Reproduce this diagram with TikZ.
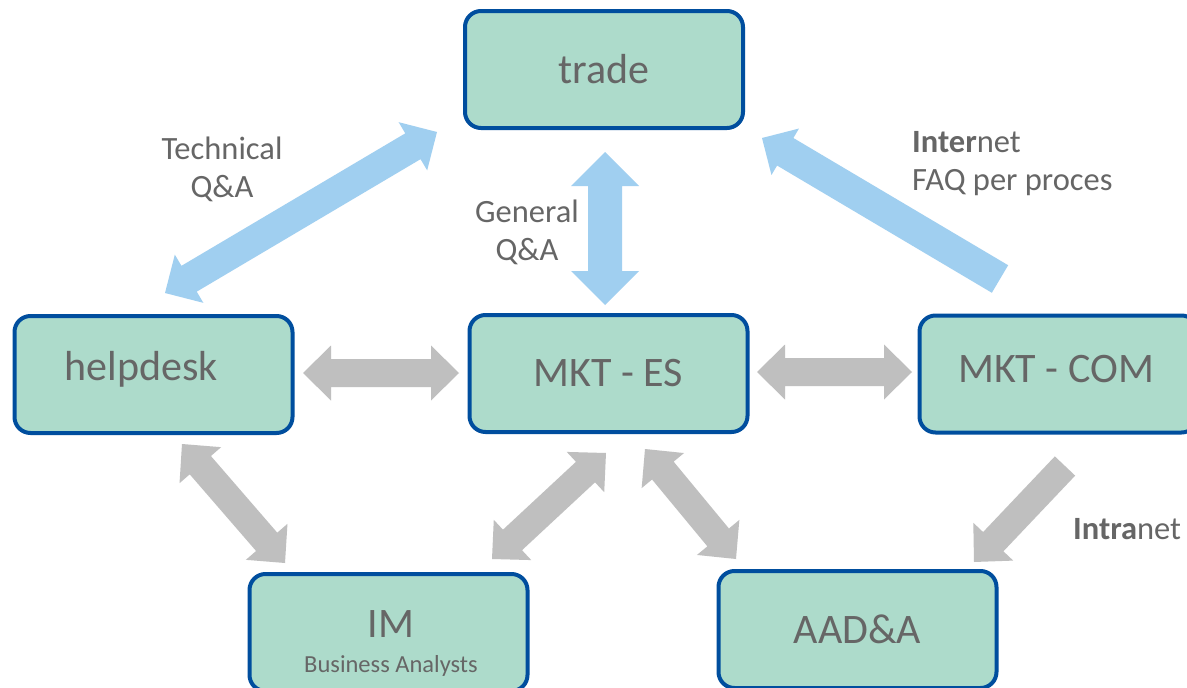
\documentclass[tikz,border=0pt]{standalone}
\usepackage{fontspec}
\setmainfont{Carlito}
\usetikzlibrary{calc}
\definecolor{boxfill}{RGB}{173,219,203}
\definecolor{boxline}{RGB}{0,78,158}
\definecolor{txt}{RGB}{102,102,102}
\definecolor{bluearr}{RGB}{160,207,240}
\definecolor{grayarr}{RGB}{191,191,191}
% double-headed block arrow: #1 colour, #2 A, #3 B, #4 head length, #5 half head width, #6 half shaft width
\newcommand\blockdbl[6]{%
\fill[#1] (#2) -- ($($(#2)!#4!(#3)$)!#5!90:(#3)$) -- ($($(#2)!#4!(#3)$)!#6!90:(#3)$)
 -- ($($(#3)!#4!(#2)$)!#6!-90:(#2)$) -- ($($(#3)!#4!(#2)$)!#5!-90:(#2)$) -- (#3)
 -- ($($(#3)!#4!(#2)$)!#5!90:(#2)$) -- ($($(#3)!#4!(#2)$)!#6!90:(#2)$)
 -- ($($(#2)!#4!(#3)$)!#6!-90:(#3)$) -- ($($(#2)!#4!(#3)$)!#5!-90:(#3)$) -- cycle;}
% single-headed block arrow: #2 tail, #3 apex
\newcommand\blocksgl[6]{%
\fill[#1] ($(#2)!#6!90:(#3)$) -- ($($(#3)!#4!(#2)$)!#6!-90:(#2)$) -- ($($(#3)!#4!(#2)$)!#5!-90:(#2)$) -- (#3)
 -- ($($(#3)!#4!(#2)$)!#5!90:(#2)$) -- ($($(#3)!#4!(#2)$)!#6!90:(#2)$) -- ($(#2)!#6!-90:(#3)$) -- cycle;}
\begin{document}
\begin{tikzpicture}[x=1pt,y=-1pt,
  box/.style={draw=boxline, line width=4pt, fill=boxfill, rounded corners=16pt,
    minimum width=278pt, minimum height=117pt, inner sep=0pt, text=txt,
    font=\fontsize{42}{48}\selectfont},
  bigtxt/.style={text=txt, inner sep=0pt, anchor=base, font=\fontsize{42}{48}\selectfont},
  lbl/.style={text=txt, inner sep=0pt, font=\fontsize{32.5}{38}\selectfont},
  small/.style={text=txt, inner sep=0pt, anchor=base, font=\fontsize{24.5}{28}\selectfont}]
\useasboundingbox (0,0) rectangle (1187,688);
\fill[white] (0,0) rectangle (1187,688);

% boxes
\node[box] (trade) at (604,69.5) {trade};
\node[box] (helpdesk) at (153.5,374.5) {};
\node[box] (mktes) at (608.5,373.5) {MKT - ES};
\node[box] (mktcom) at (1058.5,374) {};
\node[box] (im) at (388.5,632.5) {};
\node[box] (aad) at (857.5,629.5) {AAD\&A};

\node[bigtxt] (helpdesk-t) at (141,380) {helpdesk};
\node[bigtxt] (mktcom-t) at (1056,382) {MKT - COM};
\node[bigtxt] (im-t) at (391,637) {IM};
\node[small] (im-s) at (391,672) {Business Analysts};

% arrow end points
\coordinate (t1) at (437,132);
\coordinate (t2) at (165,293);
\coordinate (g1) at (605,152);
\coordinate (g2) at (605,305);
\coordinate (i1) at (1000,279);
\coordinate (i2) at (762,138);
\coordinate (h1) at (303,373);
\coordinate (h2) at (459,373);
\coordinate (c1) at (757,372);
\coordinate (c2) at (912,372);
\coordinate (d1) at (182,444);
\coordinate (d2) at (285,563);
\coordinate (e1) at (606,453);
\coordinate (e2) at (492,559);
\coordinate (f1) at (645,449);
\coordinate (f2) at (736,559);
\coordinate (n1) at (1065,466);
\coordinate (n2) at (974,562);

% blue arrows
\blockdbl{bluearr}{t1}{t2}{28pt}{28pt}{15pt}
\blockdbl{bluearr}{g1}{g2}{34pt}{34pt}{17pt}
\blocksgl{bluearr}{i1}{i2}{27pt}{27pt}{16pt}
% gray arrows
\blockdbl{grayarr}{h1}{h2}{28pt}{27.5pt}{14pt}
\blockdbl{grayarr}{c1}{c2}{28pt}{27.5pt}{14pt}
\blockdbl{grayarr}{d1}{d2}{28pt}{27.5pt}{14pt}
\blockdbl{grayarr}{e1}{e2}{28pt}{27.5pt}{14pt}
\blockdbl{grayarr}{f1}{f2}{28pt}{27.5pt}{14pt}
\blocksgl{grayarr}{n1}{n2}{28pt}{27.5pt}{14pt}

% labels
\node[lbl, anchor=base] (tech1) at (222,159) {Technical};
\node[lbl, anchor=base] (tech2) at (222,197) {Q\&A};
\node[lbl, anchor=base] (gen1) at (527,222) {General};
\node[lbl, anchor=base] (gen2) at (527,260) {Q\&A};
\node[lbl, anchor=base west] (int1) at (912,152) {\textbf{Inter}net};
\node[lbl, anchor=base west] (int2) at (912,190) {FAQ per proces};
\node[lbl, anchor=base west] (intra) at (1073,539) {\textbf{Intra}net};
\end{tikzpicture}
\end{document}
